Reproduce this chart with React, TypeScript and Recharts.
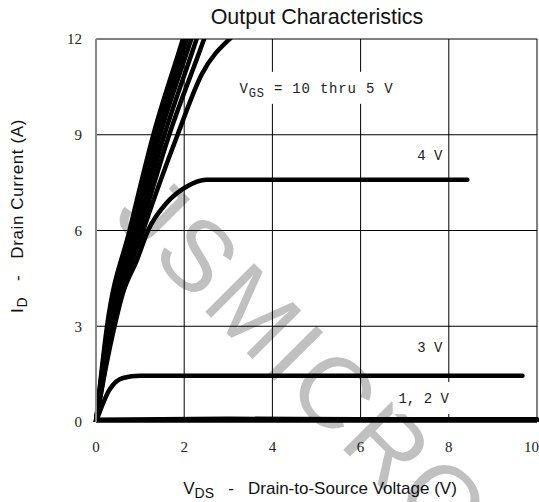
import React from 'react';
import { LineChart, Line, XAxis, YAxis, CartesianGrid, ReferenceDot } from 'recharts';

// V_DS (V) / I_D (A) points
const vgs10 = [
  { v: 0, i: 0 }, { v: 0.25, i: 3 }, { v: 0.76, i: 6 }, { v: 1.3, i: 9 }, { v: 1.97, i: 12 }, { v: 2.1, i: 12.6 },
];
const vgs9 = [
  { v: 0, i: 0 }, { v: 0.27, i: 3 }, { v: 0.82, i: 6 }, { v: 1.38, i: 9 }, { v: 2.06, i: 12 }, { v: 2.2, i: 12.6 },
];
const vgs8 = [
  { v: 0, i: 0 }, { v: 0.29, i: 3 }, { v: 0.87, i: 6 }, { v: 1.45, i: 9 }, { v: 2.16, i: 12 }, { v: 2.3, i: 12.6 },
];
const vgs7 = [
  { v: 0, i: 0 }, { v: 0.32, i: 3 }, { v: 0.93, i: 6 }, { v: 1.55, i: 9 }, { v: 2.28, i: 12 }, { v: 2.42, i: 12.6 },
];
const vgs6 = [
  { v: 0, i: 0 }, { v: 0.35, i: 3 }, { v: 1.0, i: 6 }, { v: 1.66, i: 9 }, { v: 2.45, i: 12 }, { v: 2.6, i: 12.6 },
];
const vgs5 = [
  { v: 0, i: 0 }, { v: 0.39, i: 3 }, { v: 1.07, i: 6 }, { v: 1.85, i: 9 }, { v: 2.4, i: 10.9 }, { v: 3.03, i: 12 }, { v: 3.3, i: 12.3 },
];
const vgs4 = [
  { v: 0, i: 0 }, { v: 0.25, i: 1.9 }, { v: 0.42, i: 3 }, { v: 0.61, i: 4.04 }, { v: 0.93, i: 5.08 }, { v: 1.18, i: 6 },
  { v: 1.6, i: 6.86 }, { v: 2.05, i: 7.37 }, { v: 2.5, i: 7.59 }, { v: 8.42, i: 7.59 },
];
const vgs3 = [
  { v: 0, i: 0 }, { v: 0.3, i: 1.0 }, { v: 0.61, i: 1.38 }, { v: 1.0, i: 1.45 }, { v: 9.67, i: 1.45 },
];
const vgs2 = [
  { v: 0, i: 0.07 }, { v: 3, i: 0.1 }, { v: 6, i: 0.09 }, { v: 10, i: 0.09 },
];
const vgs1 = [
  { v: 0, i: 0.05 }, { v: 4, i: 0.06 }, { v: 8, i: 0.07 }, { v: 10, i: 0.06 },
];

const curves = [vgs10, vgs9, vgs8, vgs7, vgs6, vgs5, vgs4, vgs3, vgs2, vgs1];

const xTicks = [0, 2, 4, 6, 8, 10];
const yTicks = [0, 3, 6, 9, 12];

const notes = [
  { v: 5.0, i: 10.47, main: 'V', sub: 'GS', rest: ' = 10 thru 5 V', w: 156 },
  { v: 7.57, i: 8.37, main: '4 V', sub: '', rest: '', w: 28 },
  { v: 7.57, i: 2.35, main: '3 V', sub: '', rest: '', w: 28 },
  { v: 7.43, i: 0.75, main: '1, 2 V', sub: '', rest: '', w: 54 },
];

const serif = '"Liberation Serif", serif';
const mono = '"Liberation Mono", monospace';
const sans = '"Liberation Sans", Arial, sans-serif';

const Note = (props: any) => {
  const { viewBox, note } = props;
  const cx = viewBox.x + (viewBox.width || 0) / 2;
  const cy = viewBox.y + (viewBox.height || 0) / 2;
  return (
    <g>
      <rect x={cx - note.w / 2 - 4} y={cy - 16} width={note.w + 8} height={32} fill="#fff" />
      <text x={cx} y={cy + 5} textAnchor="middle" fontFamily={mono} fontSize={14} fill="#222" letterSpacing={note.sub ? 0.8 : 0} style={{ whiteSpace: 'pre' }}>
        {note.main}
        {note.sub ? <tspan fontSize={12} dy={4}>{note.sub}</tspan> : null}
        {note.rest ? <tspan dy={-4}>{note.rest}</tspan> : null}
      </text>
    </g>
  );
};

export default function App() {
  return (
    <div style={{ position: 'absolute', left: 0, top: 0, width: 539, height: 502, background: '#fff', overflow: 'hidden' }}>
      {/* watermark behind the chart */}
      <svg width={539} height={502} style={{ position: 'absolute', left: 0, top: 0 }}>
        <text
          x={305}
          y={362}
          textAnchor="middle"
          dominantBaseline="central"
          fontFamily={sans}
          fontSize={100}
          letterSpacing={4}
          fill="#c0c0c0"
          transform="rotate(45 305 362)"
        >
          JSMICRO
        </text>
      </svg>
      <div style={{ position: 'absolute', left: 0, top: 0 }}>
        <LineChart width={539} height={502} margin={{ top: 39, right: 2, bottom: 40, left: 56 }}>
          <CartesianGrid stroke="#000" strokeWidth={1} />
          <XAxis
            dataKey="v"
            type="number"
            domain={[0, 10]}
            ticks={xTicks}
            height={40}
            axisLine={{ stroke: '#000' }}
            tickLine={false}
            tick={{ fontFamily: serif, fontSize: 15, fill: '#222' }}
            tickMargin={13}
          />
          <YAxis
            dataKey="i"
            type="number"
            domain={[0, 12]}
            ticks={yTicks}
            width={40}
            allowDataOverflow
            axisLine={{ stroke: '#888', strokeWidth: 2 }}
            tickLine={false}
            tick={{ fontFamily: serif, fontSize: 15, fill: '#222' }}
            tickMargin={8}
          />
          {curves.map((d, k) => (
            <Line
              key={k}
              data={d}
              dataKey="i"
              type="monotone"
              stroke="#000"
              strokeWidth={4.5}
              strokeLinecap="round"
              dot={false}
              activeDot={false}
              isAnimationActive={false}
            />
          ))}
          {notes.map((n, k) => (
            <ReferenceDot key={k} x={n.v} y={n.i} r={0} fill="none" stroke="none" label={(p: any) => <Note {...p} note={n} />} />
          ))}
          <text x={317} y={24} textAnchor="middle" fontFamily={sans} fontSize={21.5} fill="#111">
            Output Characteristics
          </text>
          <text x={320} y={494} textAnchor="middle" fontFamily={sans} fontSize={17} fill="#111" style={{ whiteSpace: 'pre' }}>
            V<tspan fontSize={14} dy={4}>DS</tspan>
            <tspan dy={-4}>{'   -   Drain-to-Source Voltage (V)'}</tspan>
          </text>
          <text
            x={0}
            y={0}
            textAnchor="middle"
            fontFamily={sans}
            fontSize={17}
            fill="#111"
            letterSpacing={0.6}
            transform="translate(23 216) rotate(-90)"
            style={{ whiteSpace: 'pre' }}
          >
            I<tspan fontSize={14} dy={4}>D</tspan>
            <tspan dy={-4}>{'   -   Drain Current (A)'}</tspan>
          </text>
        </LineChart>
      </div>
    </div>
  );
}
